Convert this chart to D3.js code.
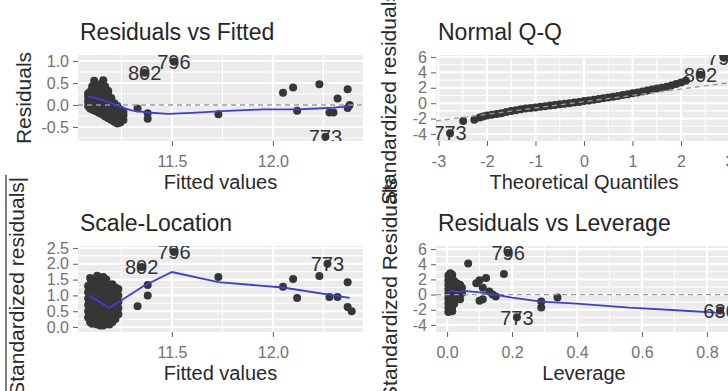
<!DOCTYPE html>
<html>
<head>
<meta charset="utf-8">
<script src="https://cdn.jsdelivr.net/npm/d3@7"></script>
<style>
  body { margin: 0; background: #fff; }
  svg { display: block; }
  text { font-family: "Liberation Sans", Arial, sans-serif; }
</style>
</head>
<body>
<svg id="chart" width="728" height="391"></svg>
<script>
// ---- Residuals vs Fitted ----
// dense cluster at low fitted values: [fitted, residuals in that column]
const rvfCluster = [
    [11.085, [-0.02, 0.08, 0.18, 0.26]],
    [11.095, [-0.08, 0.05, 0.15, 0.30]],
    [11.105, [-0.10, 0.00, 0.10, 0.20, 0.32, 0.42]],
    [11.115, [-0.12, -0.02, 0.08, 0.20, 0.30, 0.45, 0.55]],
    [11.125, [-0.14, -0.04, 0.06, 0.16, 0.28, 0.38]],
    [11.140, [-0.18, -0.08, 0.04, 0.14, 0.24, 0.34]],
    [11.150, [-0.20, -0.10, 0.00, 0.10, 0.22, 0.36, 0.48]],
    [11.160, [-0.22, -0.12, -0.02, 0.08, 0.20, 0.32, 0.44, 0.56]],
    [11.170, [-0.26, -0.14, -0.04, 0.06, 0.18, 0.30, 0.42]],
    [11.185, [-0.30, -0.20, -0.10, 0.00, 0.10, 0.22, 0.32]],
    [11.200, [-0.34, -0.24, -0.14, -0.04, 0.06, 0.16]],
    [11.215, [-0.38, -0.28, -0.18, -0.08, 0.04]],
    [11.230, [-0.42, -0.32, -0.22, -0.12, -0.02]],
    [11.245, [-0.40, -0.30, -0.20, -0.10]],
    [11.260, [-0.34, -0.24, -0.16]]
];
const rvfPoints = [[11.33, -0.08], [11.38, -0.19], [11.38, -0.31], [11.73, -0.21], [12.05, 0.28],
    [12.10, 0.40], [12.12, -0.13], [12.23, 0.47], [12.28, -0.17], [12.30, -0.17], [12.32, 0.15],
    [12.37, 0.36], [12.37, -0.07], [12.38, 0.00]];
const rvfSmooth = [[11.085, 0.20], [11.15, 0.12], [11.20, 0.04], [11.25, -0.05], [11.30, -0.12],
    [11.38, -0.17], [11.48, -0.20], [11.60, -0.18], [11.75, -0.14], [11.95, -0.10], [12.12, -0.10],
    [12.22, -0.08], [12.30, -0.06], [12.38, -0.03]];
const rvfLabels = [["802", 11.365, 0.73], ["796", 11.51, 0.98], ["773", 12.26, -0.72]];

// ---- Normal Q-Q: [theoretical, standardized residual] ----
const qqPoints = [[-2.49, -2.30], [-2.26, -2.15], [-2.15, -1.85], [-2.08, -1.72], [-2.00, -1.60],
    [-1.90, -1.50], [-1.80, -1.40], [-1.70, -1.30], [-1.60, -1.15], [-1.50, -1.00], [-1.40, -0.90],
    [-1.30, -0.80], [-1.20, -0.70], [-1.10, -0.62], [-1.00, -0.55], [-0.90, -0.47], [-0.80, -0.40],
    [-0.70, -0.30], [-0.60, -0.22], [-0.50, -0.15], [-0.40, -0.08], [-0.30, 0.00], [-0.20, 0.08],
    [-0.10, 0.17], [0.00, 0.27], [0.10, 0.35], [0.20, 0.45], [0.30, 0.55], [0.40, 0.65], [0.50, 0.74],
    [0.60, 0.84], [0.70, 0.95], [0.80, 1.05], [0.90, 1.17], [1.00, 1.28], [1.10, 1.40], [1.20, 1.52],
    [1.30, 1.65], [1.40, 1.78], [1.50, 1.90], [1.60, 2.02], [1.70, 2.15], [1.80, 2.30], [1.90, 2.48],
    [2.00, 2.70], [2.10, 2.90]];
const qqLine = { intercept: 0.2, slope: 0.82 };
const qqLabels = [["773", -2.76, -3.9], ["802", 2.40, 3.7], ["796", 2.88, 5.9]];

// ---- Scale-Location: [fitted, sqrt(|standardized residual|) values] ----
const slCluster = [
    [11.085, [0.30, 0.50, 0.70, 0.90, 1.10, 1.30]],
    [11.095, [0.15, 0.35, 0.55, 0.75, 0.95, 1.15, 1.35, 1.55]],
    [11.105, [0.10, 0.30, 0.50, 0.70, 0.90, 1.10, 1.30, 1.45]],
    [11.115, [0.20, 0.40, 0.60, 0.80, 1.00, 1.20, 1.40]],
    [11.130, [0.08, 0.28, 0.48, 0.68, 0.88, 1.08, 1.28, 1.45, 1.62]],
    [11.145, [0.05, 0.25, 0.45, 0.65, 0.85, 1.05, 1.25, 1.45]],
    [11.160, [0.05, 0.22, 0.42, 0.62, 0.82, 1.02, 1.22, 1.42, 1.58]],
    [11.175, [0.10, 0.30, 0.50, 0.70, 0.90, 1.10, 1.30, 1.50]],
    [11.190, [0.08, 0.28, 0.48, 0.68, 0.88, 1.08, 1.28]],
    [11.205, [0.15, 0.35, 0.55, 0.75, 0.95, 1.15, 1.35]],
    [11.220, [0.25, 0.45, 0.65, 0.85, 1.05, 1.25]],
    [11.235, [0.40, 0.60, 0.80, 1.00, 1.20]]
];
const slPoints = [[11.33, 0.66], [11.38, 1.33], [11.38, 1.00], [11.73, 1.58], [12.05, 1.27],
    [12.10, 1.52], [12.12, 0.92], [12.23, 1.61], [12.28, 0.95], [12.32, 0.95], [12.37, 1.42],
    [12.37, 0.63], [12.39, 0.50]];
const slSmooth = [[11.09, 1.00], [11.14, 0.80], [11.19, 0.60], [11.25, 0.85], [11.36, 1.30],
    [11.50, 1.74], [11.73, 1.42], [12.05, 1.25], [12.38, 0.92]];
const slLabels = [["802", 11.35, 1.90], ["796", 11.51, 2.37], ["773", 12.27, 2.00]];

// ---- Residuals vs Leverage: [leverage, standardized residuals] ----
const rvlCluster = [
    [0.004, [-2.3, -1.7, -1.1, -0.5, 0.1, 0.7, 1.3, 1.9, 2.5]],
    [0.010, [-2.0, -1.4, -0.8, -0.2, 0.4, 1.0, 1.6, 2.2, 2.8]],
    [0.016, [-2.2, -1.6, -1.0, -0.4, 0.2, 0.8, 1.4, 2.0, 2.6]],
    [0.022, [-1.2, -0.6, 0.0, 0.6, 1.2, 1.8]],
    [0.030, [-0.3, 0.3, 0.9, 1.5]],
    [0.040, [-0.6, 0.0, 0.6, 1.3]],
    [0.046, [0.2, 0.9]]
];
const rvlPoints = [[0.065, 4.1], [0.10, 1.9], [0.12, 2.2], [0.09, 1.5], [0.11, 0.9], [0.10, -0.8],
    [0.11, -0.6], [0.13, 0.4], [0.14, 0.0], [0.15, -0.25], [0.175, 2.7], [0.29, -0.9], [0.29, -1.7],
    [0.34, -0.4]];
const rvlSmooth = [[0.003, 0.2], [0.012, 0.55], [0.03, 0.35], [0.06, 0.45], [0.10, 0.3], [0.14, 0.05],
    [0.20, -0.4], [0.29, -0.93], [0.40, -1.2], [0.56, -1.73], [0.72, -2.1], [0.84, -2.4]];
const rvlLabels = [["796", 0.188, 5.5], ["773", 0.215, -3.0], ["636", 0.84, -2.1]];

// ---- tick values ----
const fittedTicks = [11.5, 12.0];
const rvfYTicks = [-0.5, 0.0, 0.5, 1.0];
const qqXTicks = [-3, -2, -1, 0, 1, 2, 3];
const stdYTicks = [-4, -2, 0, 2, 4, 6];
const slYTicks = [0.0, 0.5, 1.0, 1.5, 2.0, 2.5];
const levTicks = [0.0, 0.2, 0.4, 0.6, 0.8];

const svg = d3.select("#chart");
svg.append("rect").attr("width", 728).attr("height", 391).attr("fill", "#fff");

const fmt1 = d => d.toFixed(1);
const fmt0 = d => String(d);

function minorsOf(ticks, domain) {
    const step = ticks[1] - ticks[0];
    const out = [];
    for (const t of ticks) {
        for (const m of [t - step / 2, t + step / 2]) {
            if (m > domain[0] && m < domain[1] && !out.some(o => Math.abs(o - m) < 1e-9)) out.push(m);
        }
    }
    return out;
}

function drawPanel(cfg) {
    const x = d3.scaleLinear().domain(cfg.xDomain).range([cfg.left, cfg.right]);
    const y = d3.scaleLinear().domain(cfg.yDomain).range([cfg.bottom, cfg.top]);
    const g = svg.append("g");
    const inX = cfg.xTicks.filter(t => t >= cfg.xDomain[0] && t <= cfg.xDomain[1]);

    g.append("clipPath").attr("id", "clip-" + cfg.name)
        .append("rect")
        .attr("x", cfg.left).attr("y", cfg.top)
        .attr("width", cfg.right - cfg.left).attr("height", cfg.bottom - cfg.top);

    g.append("rect")
        .attr("x", cfg.left).attr("y", cfg.top)
        .attr("width", cfg.right - cfg.left).attr("height", cfg.bottom - cfg.top)
        .attr("fill", "#EBEBEB");

    const grid = g.append("g").attr("stroke", "#fff");
    grid.selectAll(".xminor").data(minorsOf(cfg.xTicks, cfg.xDomain)).join("line")
        .attr("x1", d => x(d)).attr("x2", d => x(d)).attr("y1", cfg.top).attr("y2", cfg.bottom)
        .attr("stroke-width", 1.1);
    grid.selectAll(".yminor").data(minorsOf(cfg.yTicks, cfg.yDomain)).join("line")
        .attr("y1", d => y(d)).attr("y2", d => y(d)).attr("x1", cfg.left).attr("x2", cfg.right)
        .attr("stroke-width", 1.1);
    grid.selectAll(".xmajor").data(inX).join("line")
        .attr("x1", d => x(d)).attr("x2", d => x(d)).attr("y1", cfg.top).attr("y2", cfg.bottom)
        .attr("stroke-width", 2.2);
    grid.selectAll(".ymajor").data(cfg.yTicks).join("line")
        .attr("y1", d => y(d)).attr("y2", d => y(d)).attr("x1", cfg.left).attr("x2", cfg.right)
        .attr("stroke-width", 2.2);

    const xAxis = g.append("g").attr("transform", `translate(0,${cfg.bottom})`)
        .call(d3.axisBottom(x).tickValues(inX).tickFormat(cfg.xFormat).tickSize(5).tickPadding(10));
    const yAxis = g.append("g").attr("transform", `translate(${cfg.left},0)`)
        .call(d3.axisLeft(y).tickValues(cfg.yTicks).tickFormat(cfg.yFormat).tickSize(5).tickPadding(4));
    for (const ax of [xAxis, yAxis]) {
        ax.select(".domain").remove();
        ax.selectAll("line").attr("stroke", "#6a6a6a").attr("stroke-width", 1.1);
        ax.selectAll("text").attr("fill", "#727272").attr("font-size", 16)
            .attr("font-family", "'Liberation Sans', Arial, sans-serif");
    }

    g.append("text")
        .attr("x", cfg.left + 2).attr("y", cfg.top - 15)
        .attr("font-size", 23).attr("fill", "#262626")
        .text(cfg.title);
    g.append("text")
        .attr("x", (cfg.left + cfg.right) / 2).attr("y", cfg.bottom + 48)
        .attr("text-anchor", "middle").attr("font-size", 20).attr("fill", "#2a2a2a")
        .text(cfg.xTitle);

    const plot = g.append("g").attr("clip-path", `url(#clip-${cfg.name})`);
    return { x, y, g, plot };
}

function drawYTitle(text, cx, cy) {
    svg.append("text")
        .attr("transform", `translate(${cx},${cy}) rotate(-90)`)
        .attr("text-anchor", "middle").attr("dy", "0.35em")
        .attr("font-size", 21).attr("fill", "#2a2a2a")
        .text(text);
}

function flatten(cluster) {
    return cluster.flatMap(([cx, ys]) => ys.map(v => [cx, v]));
}

function drawPoints(p, data) {
    p.plot.append("g").selectAll("circle").data(data).join("circle")
        .attr("cx", d => p.x(d[0])).attr("cy", d => p.y(d[1]))
        .attr("r", 4).attr("fill", "#363636");
}

function drawSmooth(p, data) {
    p.plot.append("path").datum(data)
        .attr("d", d3.line().x(d => p.x(d[0])).y(d => p.y(d[1])))
        .attr("fill", "none").attr("stroke", "#3d3ddb").attr("stroke-width", 1.8);
}

function drawDashed(p, x1, y1, x2, y2) {
    p.plot.append("line")
        .attr("x1", p.x(x1)).attr("y1", p.y(y1)).attr("x2", p.x(x2)).attr("y2", p.y(y2))
        .attr("stroke", "#9a9a9a").attr("stroke-width", 1.3).attr("stroke-dasharray", "5,4");
}

function drawLabels(p, labels) {
    const lg = p.plot.append("g");
    lg.selectAll("circle").data(labels).join("circle")
        .attr("cx", d => p.x(d[1])).attr("cy", d => p.y(d[2]))
        .attr("r", 4).attr("fill", "#363636");
    lg.selectAll("text").data(labels).join("text")
        .attr("x", d => p.x(d[1])).attr("y", d => p.y(d[2]))
        .attr("text-anchor", "middle").attr("dy", "0.36em")
        .attr("font-size", 20).attr("fill", "#333")
        .text(d => d[0]);
}

// layout
const topRow = { top: 55, bottom: 141 };
const botRow = { top: 246, bottom: 332 };
const leftCol = { left: 78, right: 363 };
const rightCol = { left: 436, right: 732 };

// Residuals vs Fitted
const p1 = drawPanel({ name: "rvf", ...topRow, ...leftCol, xDomain: [11.035, 12.446], yDomain: [-0.818, 1.136],
    xTicks: fittedTicks, yTicks: rvfYTicks, xFormat: fmt1, yFormat: fmt1,
    title: "Residuals vs Fitted", xTitle: "Fitted values" });
drawPoints(p1, flatten(rvfCluster).concat(rvfPoints));
drawDashed(p1, 11.035, 0, 12.446, 0);
drawSmooth(p1, rvfSmooth);
drawLabels(p1, rvfLabels);

// Normal Q-Q
const p2 = drawPanel({ name: "qq", ...topRow, ...rightCol, xDomain: [-3.05, 3.05], yDomain: [-4.91, 6.26],
    xTicks: qqXTicks, yTicks: stdYTicks, xFormat: fmt0, yFormat: fmt0,
    title: "Normal Q-Q", xTitle: "Theoretical Quantiles" });
drawPoints(p2, qqPoints);
drawDashed(p2, -3.05, qqLine.intercept - 3.05 * qqLine.slope, 3.05, qqLine.intercept + 3.05 * qqLine.slope);
drawLabels(p2, qqLabels);

// Scale-Location
const p3 = drawPanel({ name: "sl", ...botRow, ...leftCol, xDomain: [11.035, 12.446], yDomain: [-0.158, 2.563],
    xTicks: fittedTicks, yTicks: slYTicks, xFormat: fmt1, yFormat: fmt1,
    title: "Scale-Location", xTitle: "Fitted values" });
drawPoints(p3, flatten(slCluster).concat(slPoints));
drawSmooth(p3, slSmooth);
drawLabels(p3, slLabels);

// Residuals vs Leverage
const p4 = drawPanel({ name: "rvl", ...botRow, ...rightCol, xDomain: [-0.034, 0.877], yDomain: [-4.93, 6.4],
    xTicks: levTicks, yTicks: stdYTicks, xFormat: fmt1, yFormat: fmt0,
    title: "Residuals vs Leverage", xTitle: "Leverage" });
drawPoints(p4, flatten(rvlCluster).concat(rvlPoints));
drawDashed(p4, -0.034, 0, 0.877, 0);
drawSmooth(p4, rvlSmooth);
drawLabels(p4, rvlLabels);

// y axis titles (they overflow into each other like in the source arrangement)
drawYTitle("Residuals", 24, (topRow.top + topRow.bottom) / 2);
drawYTitle("Standardized residuals", 389, (topRow.top + topRow.bottom) / 2);
drawYTitle("Standardized Residuals", 390, (botRow.top + botRow.bottom) / 2);

// sqrt(|Standardized residuals|) with a radical sign
const slTitle = svg.append("g")
    .attr("transform", `translate(17,${(botRow.top + botRow.bottom) / 2}) rotate(-90)`);
const slText = slTitle.append("text")
    .attr("text-anchor", "middle").attr("dy", "0.35em")
    .attr("font-size", 21).attr("fill", "#2a2a2a")
    .text("|Standardized residuals|");
const tw = slText.node().getComputedTextLength();
slTitle.append("path")
    .attr("d", `M ${-tw / 2 - 13} 2 L ${-tw / 2 - 10} 0 L ${-tw / 2 - 6} 9 L ${-tw / 2 - 2} -11 L ${tw / 2 + 2} -11`)
    .attr("fill", "none").attr("stroke", "#2a2a2a").attr("stroke-width", 1.2);
</script>
</body>
</html>
